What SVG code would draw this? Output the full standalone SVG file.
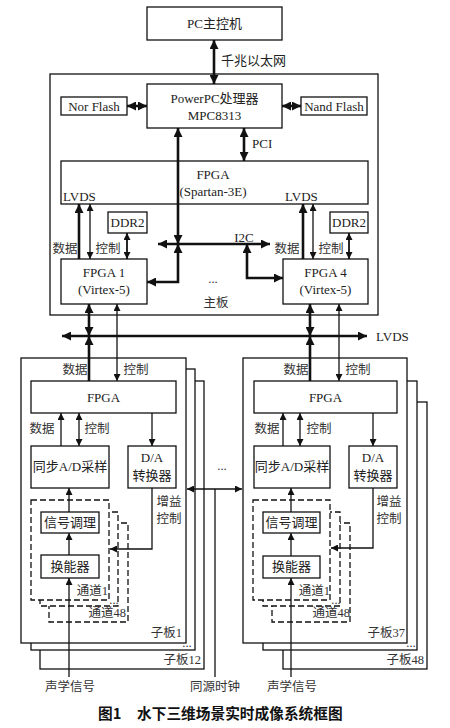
<svg xmlns="http://www.w3.org/2000/svg" width="450" height="728" viewBox="0 0 450 728">
<style>
.b{fill:#fff;stroke:#111;stroke-width:1.3}
.d{fill:#fff;stroke:#111;stroke-width:1.3;stroke-dasharray:6 3}
.t{font-family:"Liberation Serif","Noto Sans CJK SC",serif;font-size:13px;fill:#222;text-anchor:middle}
.s{font-family:"Liberation Serif","Noto Sans CJK SC",serif;font-size:12.5px;fill:#333;text-anchor:middle}
.e{text-anchor:end}
.st{text-anchor:start}
.k{fill:none;stroke:#111;stroke-width:2.6}
.n{fill:none;stroke:#111;stroke-width:1.3}
.m{fill:none;stroke:#111;stroke-width:1.8}
.cap{font-family:"Noto Sans CJK SC",sans-serif;font-size:14.7px;font-weight:bold;fill:#111}
</style>
<defs>
<marker id="ak" viewBox="0 0 10 10" refX="10" refY="5" markerWidth="9" markerHeight="9" markerUnits="userSpaceOnUse" orient="auto-start-reverse"><path d="M0,0 L10,5 L0,10 z" fill="#111"/></marker>
<marker id="an" viewBox="0 0 10 10" refX="10" refY="5" markerWidth="8" markerHeight="7" markerUnits="userSpaceOnUse" orient="auto-start-reverse"><path d="M0,0 L10,5 L0,10 z" fill="#111"/></marker>
</defs>

<g id="mainboard">
<rect class="b" x="50" y="74" width="328" height="241"/>
<text class="s" x="216" y="307">主板</text>
<text class="s" x="213" y="283">...</text>
</g>

<g id="pc">
<rect class="b" x="147" y="7" width="135" height="33"/>
<text class="t" x="214.5" y="28">PC主控机</text>
</g>

<g id="ppc">
<rect class="b" x="147" y="84" width="135" height="44"/>
<text class="t" x="214.5" y="103">PowerPC处理器</text>
<text class="t" x="214.5" y="120">MPC8313</text>
</g>

<g id="norflash">
<rect class="b" x="61" y="97" width="66" height="18"/>
<text class="t" x="94" y="110.5">Nor Flash</text>
</g>

<g id="nandflash">
<rect class="b" x="301" y="97" width="66" height="18"/>
<text class="t" x="334" y="110.5">Nand Flash</text>
</g>

<g id="spartan">
<rect class="b" x="61" y="161" width="307" height="43"/>
<text class="t" x="213" y="179">FPGA</text>
<text class="t" x="213" y="196">(Spartan-3E)</text>
<text class="t st" x="63" y="201">LVDS</text>
<text class="t st" x="285" y="201">LVDS</text>
</g>

<g id="ddr2-left">
<rect class="b" x="108" y="212" width="39" height="21"/>
<text class="t" x="127.5" y="227">DDR2</text>
</g>

<g id="ddr2-right">
<rect class="b" x="330" y="212" width="38" height="21"/>
<text class="t" x="349" y="227">DDR2</text>
</g>

<g id="fpga1">
<rect class="b" x="61" y="259" width="86" height="45"/>
<text class="t" x="104" y="277">FPGA 1</text>
<text class="t" x="104" y="294">(Virtex-5)</text>
</g>

<g id="fpga4">
<rect class="b" x="283" y="259" width="85" height="45"/>
<text class="t" x="325.5" y="277">FPGA 4</text>
<text class="t" x="325.5" y="294">(Virtex-5)</text>
</g>

<g id="sub-left">
<rect class="b" x="40" y="381" width="164" height="288"/>
<rect class="b" x="31" y="369" width="164" height="281"/>
<rect class="b" x="21" y="358" width="165" height="285"/>
<text class="s e" x="182" y="637">子板1</text>
<text class="s" x="187" y="647">...</text>
<text class="s e" x="201" y="664">子板12</text>
<rect class="b" x="31" y="381" width="145" height="32"/>
<text class="t" x="103.5" y="402">FPGA</text>
<rect class="b" x="31" y="446" width="78" height="42"/>
<text class="t" x="70" y="471">同步A/D采样</text>
<rect class="b" x="128" y="446" width="48" height="42"/>
<text class="t" x="152" y="462">D/A</text>
<text class="t" x="152" y="480">转换器</text>
<rect class="d" x="49" y="523" width="79" height="99"/>
<rect class="d" x="40" y="512" width="78" height="94"/>
<rect class="d" x="31" y="500" width="78" height="100"/>
<rect class="b" x="41" y="512" width="58" height="21"/>
<text class="t" x="70" y="527">信号调理</text>
<rect class="b" x="41" y="555" width="58" height="23"/>
<text class="t" x="70" y="571">换能器</text>
<text class="s e" x="108" y="595">通道1</text>
<text class="s" x="114" y="604">...</text>
<text class="s e" x="126" y="617">通道48</text>
<text class="s" x="75" y="374">数据</text>
<text class="s" x="136" y="374">控制</text>
<text class="s" x="42" y="433">数据</text>
<text class="s" x="97" y="433">控制</text>
<text class="s" x="169" y="506">增益</text>
<text class="s" x="169" y="523">控制</text>
<text class="s" x="70" y="691">声学信号</text>
</g>

<g id="sub-right">
<rect class="b" x="283" y="402" width="144" height="267"/>
<rect class="b" x="263" y="381" width="154" height="269"/>
<rect class="b" x="243" y="358" width="164" height="285"/>
<text class="s e" x="405" y="637">子板37</text>
<text class="s" x="411" y="647">...</text>
<text class="s e" x="424" y="664">子板48</text>
<rect class="b" x="254" y="381" width="143" height="32"/>
<text class="t" x="325.5" y="402">FPGA</text>
<rect class="b" x="254" y="446" width="76" height="42"/>
<text class="t" x="292" y="471">同步A/D采样</text>
<rect class="b" x="349" y="446" width="48" height="42"/>
<text class="t" x="373" y="462">D/A</text>
<text class="t" x="373" y="480">转换器</text>
<rect class="d" x="272" y="523" width="78" height="99"/>
<rect class="d" x="263" y="512" width="77" height="94"/>
<rect class="d" x="253" y="500" width="77" height="100"/>
<rect class="b" x="263" y="512" width="57" height="21"/>
<text class="t" x="291.5" y="527">信号调理</text>
<rect class="b" x="263" y="556" width="57" height="22"/>
<text class="t" x="291.5" y="571">换能器</text>
<text class="s e" x="330" y="595">通道1</text>
<text class="s" x="336" y="604">...</text>
<text class="s e" x="350" y="617">通道48</text>
<text class="s" x="296" y="374">数据</text>
<text class="s" x="358" y="374">控制</text>
<text class="s" x="267" y="433">数据</text>
<text class="s" x="319" y="433">控制</text>
<text class="s" x="389" y="506">增益</text>
<text class="s" x="389" y="523">控制</text>
<text class="s" x="292" y="691">声学信号</text>
</g>

<g id="connectors">
<line class="k" x1="214" y1="40" x2="214" y2="84" marker-start="url(#ak)" marker-end="url(#ak)"/>
<text class="t st" x="221" y="65">千兆以太网</text>
<line class="k" x1="127" y1="106" x2="147" y2="106" marker-start="url(#ak)" marker-end="url(#ak)"/>
<line class="k" x1="282" y1="106" x2="301" y2="106" marker-start="url(#ak)" marker-end="url(#ak)"/>
<line class="k" x1="244" y1="128" x2="244" y2="161" marker-start="url(#ak)" marker-end="url(#ak)"/>
<text class="t st" x="252" y="148">PCI</text>
<line class="k" x1="178" y1="128" x2="178" y2="244" marker-start="url(#ak)" marker-end="url(#ak)"/>
<path class="k" d="M178,244 V282 H147" marker-start="url(#ak)" marker-end="url(#ak)"/>
<line class="k" x1="158" y1="244" x2="270" y2="244" marker-start="url(#ak)" marker-end="url(#ak)"/>
<text class="t" x="244" y="242">I2C</text>
<path class="k" d="M247,244 V278 H283" marker-start="url(#ak)" marker-end="url(#ak)"/>

<line class="k" x1="79" y1="259" x2="79" y2="204" marker-end="url(#ak)"/>
<line class="n" x1="90" y1="204" x2="90" y2="259" marker-start="url(#an)" marker-end="url(#an)"/>
<line class="m" x1="127" y1="233" x2="127" y2="259" marker-start="url(#an)" marker-end="url(#an)"/>
<text class="s" x="65" y="253">数据</text>
<text class="s" x="108" y="253">控制</text>
<line class="k" x1="303" y1="259" x2="303" y2="204" marker-end="url(#ak)"/>
<line class="n" x1="313" y1="204" x2="313" y2="259" marker-start="url(#an)" marker-end="url(#an)"/>
<line class="m" x1="349" y1="233" x2="349" y2="259" marker-start="url(#an)" marker-end="url(#an)"/>
<text class="s" x="287" y="253">数据</text>
<text class="s" x="331" y="253">控制</text>

<line class="k" x1="62" y1="336" x2="367" y2="336" marker-start="url(#ak)" marker-end="url(#ak)"/>
<text class="t st" x="376" y="341">LVDS</text>
<line class="k" x1="89" y1="304" x2="89" y2="336" marker-start="url(#ak)" marker-end="url(#ak)"/>
<line class="k" x1="89" y1="381" x2="89" y2="336" marker-end="url(#ak)"/>
<line class="n" x1="117" y1="304" x2="117" y2="381" marker-start="url(#an)" marker-end="url(#an)"/>
<line class="k" x1="310" y1="304" x2="310" y2="336" marker-start="url(#ak)" marker-end="url(#ak)"/>
<line class="k" x1="310" y1="381" x2="310" y2="336" marker-end="url(#ak)"/>
<line class="n" x1="339" y1="304" x2="339" y2="381" marker-start="url(#an)" marker-end="url(#an)"/>

<line class="n" x1="61" y1="446" x2="61" y2="413" marker-end="url(#an)"/>
<line class="n" x1="79" y1="446" x2="79" y2="413" marker-start="url(#an)" marker-end="url(#an)"/>
<line class="n" x1="152" y1="413" x2="152" y2="446" marker-end="url(#an)"/>
<path class="n" d="M152,488 V549 H110" marker-end="url(#an)"/>
<line class="n" x1="69" y1="512" x2="69" y2="488" marker-end="url(#an)"/>
<line class="n" x1="69" y1="555" x2="69" y2="533" marker-end="url(#an)"/>
<line class="n" x1="69" y1="677" x2="69" y2="578" marker-end="url(#an)"/>

<line class="n" x1="283" y1="446" x2="283" y2="413" marker-end="url(#an)"/>
<line class="n" x1="300" y1="446" x2="300" y2="413" marker-start="url(#an)" marker-end="url(#an)"/>
<line class="n" x1="373" y1="413" x2="373" y2="446" marker-end="url(#an)"/>
<path class="n" d="M373,488 V548 H331" marker-end="url(#an)"/>
<line class="n" x1="291" y1="512" x2="291" y2="488" marker-end="url(#an)"/>
<line class="n" x1="291" y1="556" x2="291" y2="533" marker-end="url(#an)"/>
<line class="n" x1="291" y1="677" x2="291" y2="578" marker-end="url(#an)"/>

<line class="n" x1="187" y1="489" x2="242" y2="489" marker-start="url(#an)" marker-end="url(#an)"/>
<line class="n" x1="215" y1="489" x2="215" y2="677"/>
<text class="s" x="222" y="470">...</text>
<text class="s" x="215" y="691">同源时钟</text>
</g>

<g id="caption">
<text class="cap" x="98" y="719">图1</text>
<text class="cap" x="137" y="719">水下三维场景实时成像系统框图</text>
</g>
</svg>
